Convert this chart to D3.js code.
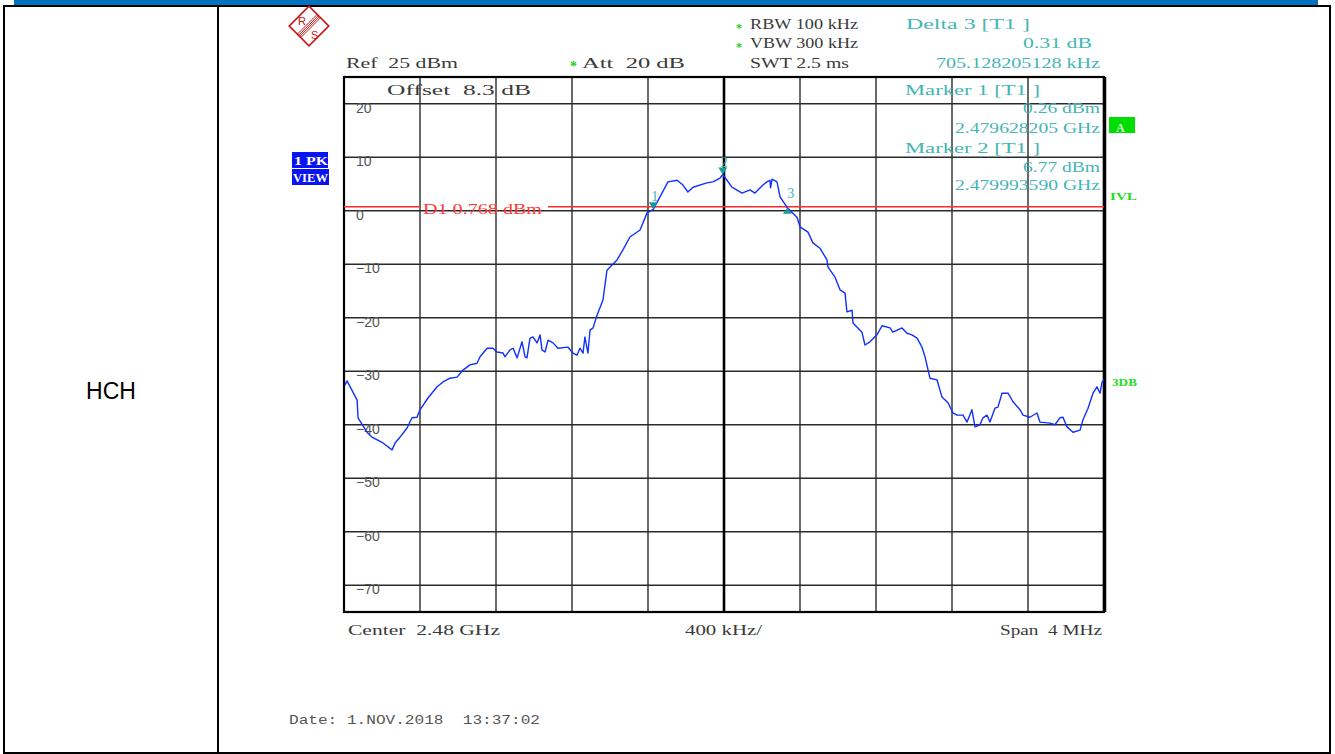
<!DOCTYPE html>
<html>
<head>
<meta charset="utf-8">
<script src="https://d3js.org/d3.v7.min.js"></script>
<style>
  body { margin: 0; background: #fff; }
  svg text { font-family: "Liberation Serif", "DejaVu Serif", serif; white-space: pre; }
</style>
</head>
<body>
<div id="chart"></div>
<script>
// trace (frequency offset from centre in kHz, level in dBm)
var freqKHz = [-1995, -1984, -1931, -1926, -1879, -1853, -1795, -1747, -1731, -1705,
  -1668, -1642, -1616, -1600, -1558, -1510, -1479, -1442, -1405, -1374,
  -1337, -1300, -1284, -1247, -1216, -1195, -1163, -1153, -1126, -1110,
  -1089, -1063, -1047, -1037, -1021, -1005, -984, -968, -958, -942,
  -926, -900, -874, -821, -795, -774, -758, -742, -732, -716,
  -705, -689, -668, -637, -616, -563, -532, -495, -442, -405,
  -372, -337, -295, -247, -216, -190, -163, -90, -58, -21,
  -6, 42, 95, 137, 163, 205, 226, 242, 245, 253,
  279, 295, 333, 384, 400, 442, 468, 505, 542, 547,
  584, 611, 637, 647, 674, 679, 726, 742, 768, 805,
  832, 874, 889, 937, 963, 989, 1016, 1042, 1058, 1084,
  1121, 1147, 1179, 1205, 1226, 1258, 1279, 1305, 1321, 1347,
  1363, 1384, 1400, 1426, 1442, 1463, 1495, 1521, 1558, 1574,
  1610, 1647, 1663, 1716, 1742, 1768, 1784, 1805, 1837, 1874,
  1889, 1916, 1942, 1963, 1979, 1990, 2000];
var levelDbm = [-32.6, -31.8, -35.4, -38.7, -41.4, -42.3, -43.4, -44.7, -43.4, -42.3,
  -40.6, -38.7, -38.6, -37.2, -35.0, -32.9, -32.0, -31.3, -31.1, -29.8,
  -28.8, -28.5, -27.3, -25.7, -25.7, -26.4, -26.6, -27.3, -26.0, -25.7,
  -27.5, -24.5, -27.3, -27.5, -23.8, -23.6, -24.7, -23.2, -26.0, -26.4,
  -24.2, -24.7, -25.7, -25.5, -26.6, -27.0, -25.7, -26.6, -23.6, -26.6,
  -22.3, -21.9, -19.5, -16.7, -11.1, -9.2, -7.3, -4.9, -3.6, -0.4,
  0.26, 2.6, 5.4, 5.7, 4.8, 3.5, 4.4, 5.2, 5.4, 6.1,
  6.77, 4.4, 3.3, 3.9, 3.3, 4.8, 5.4, 5.7, 4.3, 5.9,
  5.4, 2.6, 0.57, -1.2, -3.0, -4.0, -6.0, -7.0, -9.2, -10.5,
  -12.4, -14.8, -15.4, -18.9, -18.6, -21.0, -22.7, -25.1, -24.5, -23.2,
  -21.5, -21.9, -22.7, -21.9, -22.9, -23.2, -23.8, -25.5, -27.3, -31.3,
  -31.6, -34.8, -35.9, -37.8, -38.2, -38.2, -39.5, -37.2, -40.4, -40.0,
  -38.7, -38.2, -39.5, -36.9, -36.7, -34.1, -34.1, -35.7, -37.2, -38.2,
  -38.6, -37.8, -39.5, -39.7, -40.0, -38.7, -38.6, -40.4, -41.4, -41.0,
  -39.1, -36.9, -34.1, -32.9, -34.1, -32.0, -31.6];

var levelTicks = [20, 10, 0, -10, -20, -30, -40, -50, -60, -70];
var freqTicks = [-2000, -1600, -1200, -800, -400, 0, 400, 800, 1200, 1600, 2000];

var markerName = ["1", "2", "3"];
var markerFreq = [-371.795, -6.41, 333.333];
var markerLevel = [0.26, 6.77, 0.57];
var markerUp = [false, false, true];

var displayLine = 0.768;

var W = 1335, H = 754;
var svg = d3.select("#chart").append("svg").attr("width", W).attr("height", H);

// page table
svg.append("rect").attr("x", 14).attr("y", 0).attr("width", 1304).attr("height", 5).attr("fill", "#0070c0");
var tl = [[3, 6, 1331, 6], [4, 6, 4, 754], [218, 6, 218, 754], [1330, 6, 1330, 754], [3, 753, 1331, 753]];
tl.forEach(function (d) {
    svg.append("line").attr("x1", d[0]).attr("y1", d[1]).attr("x2", d[2]).attr("y2", d[3])
        .attr("stroke", "#000").attr("stroke-width", 2);
});
svg.append("text").attr("x", 111).attr("y", 399).attr("text-anchor", "middle")
    .style("font-family", "Liberation Sans, Arial, sans-serif").style("font-size", "23px").text("HCH");

// R&S logo
var logo = svg.append("g").attr("transform", "translate(309,26) rotate(45)");
logo.append("rect").attr("x", -14).attr("y", -14).attr("width", 28).attr("height", 28)
    .attr("fill", "none").attr("stroke", "#cc1010").attr("stroke-width", 1.6);
[-2.4, -0.8, 0.8, 2.4].forEach(function (o) {
    logo.append("line").attr("x1", o).attr("y1", -14).attr("x2", o).attr("y2", 14)
        .attr("stroke", "#cc1010").attr("stroke-width", 0.9);
});
svg.append("text").attr("x", 298).attr("y", 25).attr("fill", "#cc1010")
    .style("font-family", "Liberation Sans, sans-serif").style("font-size", "11px").text("R");
svg.append("text").attr("x", 311).attr("y", 39).attr("fill", "#cc1010")
    .style("font-family", "Liberation Sans, sans-serif").style("font-size", "11px").text("S");

var x = d3.scaleLinear().domain([-2000, 2000]).range([344, 1104]);
var y = d3.scaleLinear().domain([-75, 25]).range([612, 77]);

// grid
var grid = svg.append("g");
levelTicks.forEach(function (v) {
    grid.append("line").attr("x1", x(-2000)).attr("x2", x(2000)).attr("y1", y(v)).attr("y2", y(v))
        .attr("stroke", "#2a2a2a").attr("stroke-width", 1.4);
    grid.append("text").attr("x", 356).attr("y", y(v) + 9).attr("fill", "#555")
        .style("font-family", "Liberation Sans, Arial, sans-serif").style("font-size", "14px")
        .text(v < 0 ? "\u2212" + Math.abs(v) : v);
});
freqTicks.forEach(function (v) {
    grid.append("line").attr("x1", x(v)).attr("x2", x(v)).attr("y1", y(25)).attr("y2", y(-75))
        .attr("stroke", v === 0 ? "#000" : "#2a2a2a").attr("stroke-width", v === 0 ? 2.6 : 1.4);
});
svg.append("rect").attr("x", x(-2000)).attr("y", y(25)).attr("width", x(2000) - x(-2000)).attr("height", y(-75) - y(25))
    .attr("fill", "none").attr("stroke", "#000").attr("stroke-width", 2.2);
svg.append("line").attr("x1", x(2000) + 0.5).attr("x2", x(2000) + 0.5).attr("y1", y(25)).attr("y2", y(-75))
    .attr("stroke", "#000").attr("stroke-width", 3.5);

// text helper: stretched to the measured width
function label(s, x0, y0, w, col, size) {
    var t = svg.append("text").attr("x", x0).attr("y", y0).attr("fill", col || "#3a3a3a")
        .style("font-size", (size || 14) + "px").text(s);
    if (w) t.attr("textLength", w).attr("lengthAdjust", "spacingAndGlyphs");
    return t;
}
var teal = "#45b5b5";
var star = "#22cc22";

label("Ref  25 dBm", 346, 68, 112);
label("*", 570, 71, 0, star, 14).style("font-weight", "bold");
label("Att  20 dB", 582, 68, 103);
label("*", 736, 32, 0, star, 12).style("font-weight", "bold");
label("*", 736, 51, 0, star, 12).style("font-weight", "bold");
label("RBW 100 kHz", 750, 29, 108);
label("VBW 300 kHz", 750, 48, 108);
label("SWT 2.5 ms", 750, 68, 99);
label("Delta 3 [T1 ]", 906, 29, 124, teal);
label("0.31 dB", 1023, 48, 69, teal);
label("705.128205128 kHz", 936, 68, 164, teal);
label("Offset  8.3 dB", 387, 95, 144);
label("Marker 1 [T1 ]", 905, 95, 135, teal);
label("0.26 dBm", 1023, 113, 77, teal);
label("2.479628205 GHz", 955, 133, 145, teal);
label("Marker 2 [T1 ]", 905, 153, 135, teal);
label("6.77 dBm", 1023, 172, 77, teal);
label("2.479993590 GHz", 955, 190, 145, teal);
label("Center  2.48 GHz", 348, 635, 152);
label("400 kHz/", 685, 635, 77);
label("Span  4 MHz", 1000, 635, 102);
label("Date: 1.NOV.2018  13:37:02", 289, 724, 251, "#555", 12.5).style("font-family", "Liberation Mono, monospace");

// side labels
svg.append("rect").attr("x", 292).attr("y", 152).attr("width", 36).attr("height", 16).attr("fill", "#0a14f0");
svg.append("rect").attr("x", 292).attr("y", 169).attr("width", 37).attr("height", 16).attr("fill", "#0a14f0");
label("1 PK", 294, 165, 34, "#fff", 12).style("font-weight", "bold");
label("VIEW", 293, 182, 35, "#fff", 12).style("font-weight", "bold");
svg.append("rect").attr("x", 1109).attr("y", 117).attr("width", 26).attr("height", 16).attr("fill", "#00dd00");
label("A", 1116, 132, 0, "#d8ffd8", 12).style("font-weight", "bold");
label("IVL", 1110, 200, 27, "#22dd22", 10).style("font-weight", "bold");
label("3DB", 1112, 386, 25, "#22dd22", 10).style("font-weight", "bold");

// display line D1
var yd = y(displayLine);
svg.append("line").attr("x1", x(-2000)).attr("x2", 420).attr("y1", yd).attr("y2", yd).attr("stroke", "#ff2a2a").attr("stroke-width", 1.5);
svg.append("line").attr("x1", 548).attr("x2", x(2000)).attr("y1", yd).attr("y2", yd).attr("stroke", "#ff2a2a").attr("stroke-width", 1.5);
label("D1 0.768 dBm", 423, 214, 119, "#ff3a3a");

// trace
var pts = freqKHz.map(function (f, i) { return [f, levelDbm[i]]; });
var line = d3.line().x(function (d) { return x(d[0]); }).y(function (d) { return y(d[1]); });
svg.append("path").datum(pts).attr("d", line).attr("fill", "none")
    .attr("stroke", "#1030ff").attr("stroke-width", 1.4).attr("stroke-linejoin", "round");

// markers
markerFreq.forEach(function (f, i) {
    var mx = x(f), my = y(markerLevel[i]);
    var tri = markerUp[i]
        ? [[mx, my], [mx - 4.5, my + 6], [mx + 4.5, my + 6]]
        : [[mx, my], [mx - 4.5, my - 7], [mx + 4.5, my - 7]];
    svg.append("path").attr("d", "M" + tri.join("L") + "Z").attr("fill", "#1c9a9a");
    svg.append("text").attr("x", mx + (markerUp[i] ? 0 : -2)).attr("y", markerUp[i] ? my - 10 : my - 8)
        .attr("fill", teal).style("font-size", "14px").text(markerName[i]);
});
</script>
</body>
</html>
